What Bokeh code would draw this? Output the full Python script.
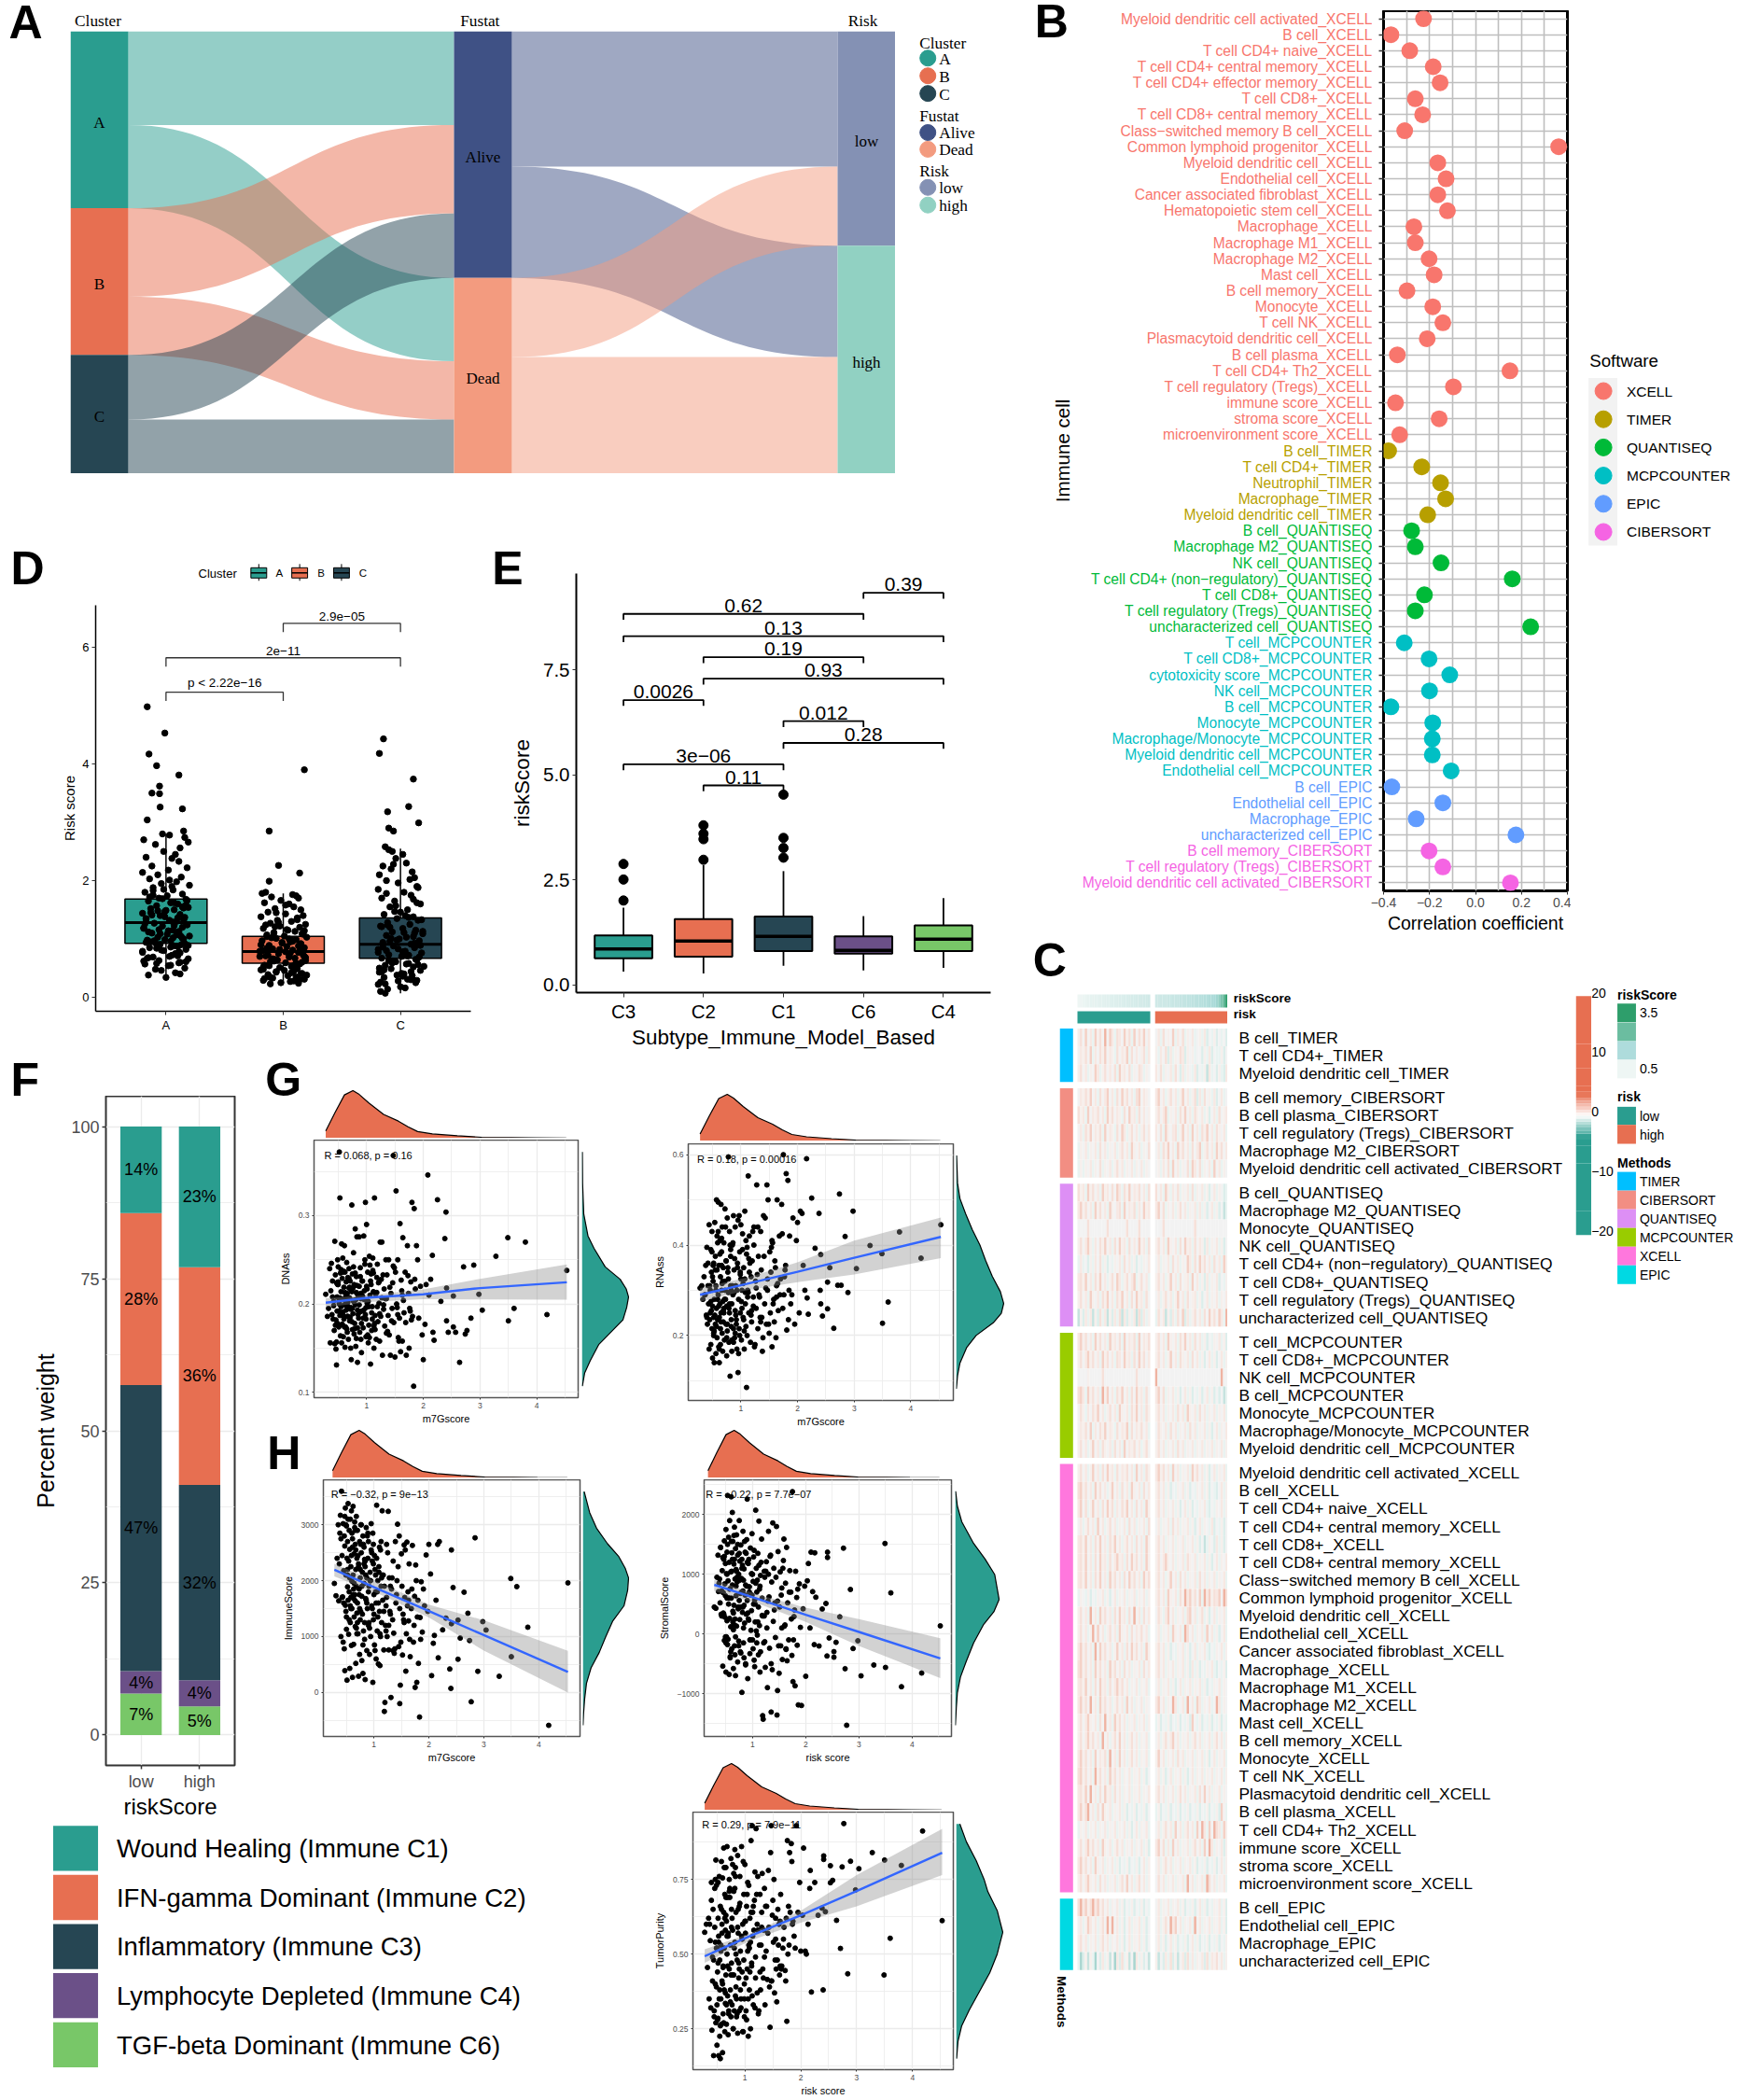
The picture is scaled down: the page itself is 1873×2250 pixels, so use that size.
import math
from bokeh.plotting import figure
from bokeh.models import Range1d, FixedTicker, Column
from bokeh.embed import file_html
from bokeh.resources import INLINE
from bokeh.core.properties import value

SANS = "Liberation Sans"
SERIF = "Liberation Serif"
TEAL, SALMON, NAVY, PURPLE, GREEN = "#2A9D8F", "#E76F51", "#264653", "#6B5088", "#78C768"

# ---------- panel A: alluvial counts
cluster_names = ["A", "B", "C"]
fustat_names = ["Alive", "Dead"]
risk_names = ["low", "high"]
cluster_to_fustat = [[90, 80], [85, 56], [62, 52]]
fustat_to_risk = [[130, 107], [76, 112]]
cluster_colors = [TEAL, SALMON, NAVY]
fustat_colors = ["#3F5185", "#F39B7F"]
risk_colors = ["#8491B4", "#91D1C2"]

# ---------- panel B
sw_names = ["XCELL", "TIMER", "QUANTISEQ", "MCPCOUNTER", "EPIC", "CIBERSORT"]
sw_colors = ["#F8766D", "#B79F00", "#00BA38", "#00BFC4", "#619CFF", "#F564E3"]
b_xcell = ["Myeloid dendritic cell activated", "B cell", "T cell CD4+ naive", "T cell CD4+ central memory",
           "T cell CD4+ effector memory", "T cell CD8+", "T cell CD8+ central memory", "Class\u2212switched memory B cell",
           "Common lymphoid progenitor", "Myeloid dendritic cell", "Endothelial cell", "Cancer associated fibroblast",
           "Hematopoietic stem cell", "Macrophage", "Macrophage M1", "Macrophage M2", "Mast cell", "B cell memory",
           "Monocyte", "T cell NK", "Plasmacytoid dendritic cell", "B cell plasma", "T cell CD4+ Th2",
           "T cell regulatory (Tregs)", "immune score", "stroma score", "microenvironment score"]
b_timer = ["B cell", "T cell CD4+", "Neutrophil", "Macrophage", "Myeloid dendritic cell"]
b_quant = ["B cell", "Macrophage M2", "NK cell", "T cell CD4+ (non\u2212regulatory)", "T cell CD8+",
           "T cell regulatory (Tregs)", "uncharacterized cell"]
b_mcp = ["T cell", "T cell CD8+", "cytotoxicity score", "NK cell", "B cell", "Monocyte", "Macrophage/Monocyte",
         "Myeloid dendritic cell", "Endothelial cell"]
b_epic = ["B cell", "Endothelial cell", "Macrophage", "uncharacterized cell"]
b_cib = ["B cell memory", "T cell regulatory (Tregs)", "Myeloid dendritic cell activated"]
b_groups = [b_xcell, b_timer, b_quant, b_mcp, b_epic, b_cib]
b_values = [-0.226, -0.368, -0.286, -0.184, -0.154, -0.262, -0.23, -0.308, 0.362, -0.164, -0.128, -0.164, -0.122,
            -0.268, -0.262, -0.202, -0.18, -0.298, -0.186, -0.142, -0.21, -0.34, 0.15, -0.096, -0.348, -0.158, -0.33,
            -0.378, -0.234, -0.152, -0.13, -0.208,
            -0.278, -0.262, -0.15, 0.16, -0.222, -0.262, 0.24,
            -0.31, -0.202, -0.112, -0.2, -0.368, -0.186, -0.188, -0.188, -0.106,
            -0.364, -0.142, -0.258, 0.176,
            -0.202, -0.142, 0.152]

# ---------- panel D
d_box = {"q1": [0.926, 0.583, 0.669], "med": [1.28, 0.783, 0.909], "q3": [1.686, 1.046, 1.36],
         "lo": [0.33, 0.25, 0.07], "hi": [2.8, 1.78, 2.55]}
d_brackets = [(1, 2, 5.23, "p < 2.22e\u221216"), (1, 3, 5.82, "2e\u221211"), (2, 3, 6.41, "2.9e\u221205")]
d_a_y = [4.98, 4.53, 4.17, 3.97, 3.81, 3.62, 3.50, 3.49, 3.26, 3.23,
         3.04, 2.85, 2.80, 2.78, 2.74, 2.70, 2.66, 2.62, 2.56, 2.50,
         2.45, 2.40, 2.38, 2.33, 2.25, 2.22, 2.18, 2.14, 2.10, 2.06,
         2.03, 1.98, 1.95, 1.92, 1.88, 1.84, 1.80, 1.77, 1.74, 1.70,
         1.68, 1.65, 1.62, 1.60, 1.57, 1.54, 1.52, 1.50, 1.47, 1.44,
         1.42, 1.40, 1.37, 1.35, 1.32, 1.30, 1.27, 1.25, 1.22, 1.20,
         1.18, 1.15, 1.13, 1.10, 1.08, 1.05, 1.03, 1.00, .98, .96,
         .93, .90, .88, .85, .82, .80, .77, .74, .72, .69,
         .66, .63, .60, .57, .54, .50, .46, .42, .38, .34,
         1.85, 1.62, 1.45, 1.33, 1.16, 1.06, .94, .86, .71, .58,
         2.01, 1.75, 1.55, 1.38, 1.24, 1.12, 1.02, .91, .78, .62,
         1.90, 1.72, 1.58, 1.48, 1.36, 1.26, 1.14, 1.04, .97, .89, .81, .75, .67, .59, 1.69, 1.53, 1.41, 1.29, 1.19, 1.07,
         .99, .92, .84, .76, .68, .55, 1.83, 1.66, 1.49, 1.34, 1.23, 1.09, 1.01, .95, .87, .79, .70, .61, .48, .40]
d_a_dx = [-.16, -.01, -.145, -.08, .11, -.055, -.12, -.055, -.05, .14,
          -.16, .15, -.03, .03, .16, -.19, .19, -.09, .12, -.02,
          .08, -.17, .05, .11, -.12, .18, .02, -.20, -.07, .13,
          -.14, .09, -.04, .2, -.11, .06, -.18, .14, .01, -.06,
          .17, -.15, .04, .10, -.08, .19, -.13, .07, -.01, -.2,
          .12, -.05, .16, -.17, .03, .09, -.1, .18, -.03, .14,
          -.19, .06, .11, -.12, .01, .2, -.07, .15, -.16, .04,
          -.09, .13, .07, -.14, .17, -.02, -.2, .1, .05, -.11,
          .19, -.06, .12, -.18, .02, .16, -.04, .08, -.15, .0,
          -.02, .07, -.13, .15, -.06, .12, -.17, .04, .10, -.08,
          .03, -.11, .14, -.01, .18, -.15, .06, -.05, .11, -.19,
          .05, -.14, .17, -.07, .1, -.18, .02, .13, -.1, .19, -.04, .08, -.16, .11, -.03, .15, -.12, .06, -.19, .09,
          -.01, .16, -.08, .12, -.15, .04, -.11, .18, .0, -.17, .07, -.05, .14, -.13, .1, -.2, .03, .17, -.09, .12]
d_b_y = [3.9, 2.85, 2.26, 2.13, 1.99,
         1.80, 1.78, 1.76, 1.74, 1.72, 1.70, 1.66, 1.62, 1.60, 1.55, 1.52, 1.50, 1.46, 1.43, 1.40,
         1.38, 1.35, 1.32, 1.30, 1.27, 1.25, 1.22, 1.20, 1.18, 1.15, 1.13, 1.11, 1.09, 1.07, 1.05,
         1.03, 1.01, .99, .97, .95, .93, .91, .89, .87, .85, .83, .81, .79, .77, .75,
         .73, .71, .69, .67, .65, .63, .61, .59, .57, .55, .53, .51, .49, .47, .45,
         .43, .41, .39, .37, .35, .33, .31, .29, .27, .25, .24, .23,
         1.10, 1.00, .92, .84, .78, .70, .64, .56, .48, .42, .36, .30,
         1.45, 1.33, 1.24, 1.16, 1.08, 1.02, .96, .90, .86, .82, .76, .72, .68, .62, .58, .52, .46, .40, .34, .28,
         1.28, 1.14, 1.04, .98, .94, .88, .80, .74, .66, .60, .54, .50, .44, .38, .32, 1.58, 1.36, 1.21, .84, .70]
d_b_dx = [.18, -.12, -.04, .14, -.12,
          -.15, -.18, .08, .11, -.1, .13, -.02, -.16, .05, .09, -.07, .15, -.13, .02, .17,
          -.19, .12, -.05, .07, -.11, .19, -.03, .14, -.17, .04, .10, -.08, .16, -.14, .01,
          .2, -.06, .11, -.18, .06, -.01, .15, -.12, .03, .18, -.09, .08, -.2, .13, -.04,
          .17, -.15, .05, .10, -.07, .19, -.11, .02, .14, -.16, .07, -.03, .12, -.19, .09,
          -.06, .16, -.13, .04, .11, -.09, .18, -.17, .06, -.02, .13, -.11,
          -.08, .05, .15, -.14, .02, .18, -.05, .10, -.17, .07, -.12, .14,
          -.06, .12, -.15, .03, .17, -.1, .08, -.19, .14, -.03, .06, -.13, .19, -.08, .11, -.17, .01, .15, -.11, .09,
          -.04, .18, -.14, .07, -.01, .13, -.18, .05, -.09, .16, -.12, .1, -.06, .2, -.16, .02, .12, -.07, .17, -.2]
d_c_y = [4.43, 4.18, 3.74, 3.27, 3.18, 2.99, 2.90, 2.85,
         2.58, 2.53, 2.50, 2.45, 2.38, 2.30, 2.25, 2.20, 2.15, 2.10, 2.05, 2.0, 1.96, 1.90, 1.85, 1.80, 1.75,
         1.70, 1.65, 1.60, 1.55, 1.50, 1.46, 1.42, 1.38, 1.35, 1.32, 1.28, 1.25, 1.22, 1.18, 1.15, 1.12, 1.09,
         1.06, 1.03, 1.00, .97, .94, .91, .88, .85, .82, .79, .76, .73, .70, .67, .64, .61, .58, .55, .52, .49,
         .46, .43, .40, .37, .34, .31, .28, .25, .22, .18, .14, .10, .07,
         1.40, 1.20, 1.10, .98, .90, .80, .72, .62, .56, .44, .36, .30,
         2.02, 1.78, 1.62, 1.47, 1.33, 1.21, 1.11, 1.04, .96, .89, .83, .77, .71, .65, .59, .53, .47, .41, .33, .26,
         1.88, 1.57, 1.37, 1.24, 1.13, 1.01, .93, .86, .78, .69, .63, .57, .50, .44, .38, .29, .23, .16, 2.28, 1.68]
d_c_dx = [-.145, -.18, .11, .07, -.11, .155, -.10, -.06,
          -.13, -.1, -.07, .02, -.04, .05, -.15, -.08, .1, -.18, .12, -.12, -.02, .14, -.19, .03, .09,
          -.16, -.05, .17, -.09, .06, .0, -.14, .11, -.03, .15, -.11, .08, -.17, .02, .13, -.07, .19,
          -.12, .05, -.01, .16, -.15, .09, -.06, .12, -.19, .04, .18, -.1, .01, -.16, .14, -.04, .07, -.13, .11, -.08,
          .17, -.18, .03, .1, -.14, .06, -.02, .13, -.19, .0, -.11, -.17, -.13,
          .04, -.09, .12, -.03, .16, -.12, .07, -.06, .15, -.16, .02, .09,
          .08, -.12, .14, -.05, .18, -.16, .03, .11, -.09, .17, -.02, -.19, .06, .13, -.07, .2, -.14, .01, .1, -.17,
          .15, -.04, .07, -.11, .19, -.08, .12, -.15, .02, .16, -.1, .05, -.18, .09, -.03, .14, -.13, .04, -.06, .11]

# ---------- panel E
e_names = ["C3", "C2", "C1", "C6", "C4"]
e_colors = [TEAL, SALMON, NAVY, PURPLE, GREEN]
e_q1 = [0.634, 0.674, 0.81, 0.745, 0.81]
e_med = [0.856, 1.046, 1.157, 0.824, 1.09]
e_q3 = [1.18, 1.57, 1.63, 1.157, 1.42]
e_lo = [0.317, 0.277, 0.46, 0.35, 0.41]
e_hi = [1.84, 2.85, 2.71, 1.64, 2.07]
e_out_x = [1, 1, 1, 2, 2, 2, 2, 3, 3, 3, 3]
e_out_y = [2.01, 2.51, 2.88, 2.98, 3.47, 3.6, 3.8, 3.03, 3.26, 3.5, 4.53]
e_brackets = [(4, 5, 9.33, "0.39"), (1, 4, 8.83, "0.62"), (1, 5, 8.30, "0.13"), (2, 4, 7.80, "0.19"),
              (2, 5, 7.29, "0.93"), (1, 2, 6.78, "0.0026"), (3, 4, 6.28, "0.012"), (3, 5, 5.76, "0.28"),
              (1, 3, 5.25, "3e\u221206"), (2, 3, 4.75, "0.11")]

# ---------- panel F
f_names = ["TGF-beta Dominant (Immune C6)", "Lymphocyte Depleted (Immune C4)", "Inflammatory (Immune C3)",
           "IFN-gamma Dominant (Immune C2)", "Wound Healing (Immune C1)"]
f_colors = [GREEN, PURPLE, NAVY, SALMON, TEAL]
f_low = [6.8, 3.7, 47.0, 28.3, 14.2]
f_high = [4.7, 4.3, 32.1, 35.8, 23.1]
f_low_lab = ["7%", "4%", "47%", "28%", "14%"]
f_high_lab = ["5%", "4%", "32%", "36%", "23%"]

# ---------- scatter panels: same samples on the x axis
risk = [.28, .31, .33, .35, .36, .38, .39, .40, .41, .42,
        .43, .44, .44, .45, .46, .47, .47, .48, .48, .49,
        .49, .50, .50, .51, .52, .52, .53, .53, .54, .54,
        .55, .55, .56, .56, .57, .57, .58, .58, .59, .59,
        .60, .60, .61, .61, .62, .62, .63, .63, .64, .64,
        .65, .65, .66, .66, .67, .67, .68, .68, .69, .69,
        .70, .70, .71, .72, .72, .73, .74, .74, .75, .75,
        .76, .76, .77, .78, .78, .79, .80, .80, .81, .82,
        .82, .83, .84, .84, .85, .86, .87, .87, .88, .89,
        .90, .90, .91, .92, .93, .94, .95, .96, .97, .98,
        .98, .99, 1.00, 1.01, 1.02, 1.03, 1.04, 1.05, 1.06, 1.07,
        1.08, 1.09, 1.10, 1.11, 1.12, 1.13, 1.14, 1.15, 1.17, 1.18,
        1.19, 1.20, 1.22, 1.23, 1.24, 1.26, 1.27, 1.28, 1.30, 1.31,
        1.32, 1.34, 1.35, 1.36, 1.38, 1.39, 1.40, 1.42, 1.43, 1.45,
        1.46, 1.47, 1.48, 1.50, 1.51, 1.52, 1.53, 1.55, 1.56, 1.58,
        1.59, 1.60, 1.62, 1.63, 1.64, 1.66, 1.68, 1.70, 1.72, 1.74,
        1.75, 1.76, 1.78, 1.80, 1.81, 1.83, 1.84, 1.86, 1.88, 1.90,
        1.92, 1.95, 1.98, 2.00, 2.03, 2.05, 2.08, 2.10, 2.13, 2.16,
        2.17, 2.19, 2.25, 2.31, 2.38, 2.40, 2.41, 2.41, 2.44, 2.53,
        2.53, 2.57, 2.64, 2.71, 2.74, 2.77, 2.84, 2.89, 2.98, 3.04,
        3.28, 3.49, 3.50, 3.60, 3.80, 4.18, 4.53, .52, .66, .83,
        .37, .42, .46, .5, .53, .56, .58, .61, .63, .65,
        .68, .71, .73, .75, .77, .79, .81, .83, .85, .87,
        .89, .91, .93, .95, .97, .99, 1.01, 1.03, 1.05, 1.07,
        1.09, 1.11, 1.13, 1.16, 1.19, 1.21, 1.25, 1.29, 1.33, 1.37,
        1.41, 1.44, 1.49, 1.54, 1.57, 1.61, 1.65, 1.69, 1.73, 1.77,
        .40, .45, .49, .52, .55, .59, .62, .66, .69, .72,
        .74, .76, .78, .80, .84, .86, .88, .92, .94, .96,
        1.00, 1.02, 1.04, 1.06, 1.10, 1.12, 1.15, 1.18, 1.23, 1.27,
        .47, .51, .57, .60, .64, .67, .70, .82, .90, .99,
        1.08, 1.14, 1.22, 1.30, 1.35, 1.47, 1.55, 1.63, 1.79, 1.85]
dnass = [.211, .186, .195, .240, .156, .246, .188, .226, .183, .203,
         .170, .155, .271, .233, .149, .131, .157, .208, .192, .250,
         .178, .222, .242, .174, .372, .201, .320, .187, .164, .235,
         .214, .197, .268, .156, .229, .177, .191, .252, .205, .163,
         .219, .183, .266, .199, .151, .236, .174, .208, .225, .193,
         .247, .172, .212, .186, .202, .230, .160, .195, .240, .218,
         .181, .207, .226, .150, .196, .137, .312, .214, .171, .234,
         .189, .204, .258, .166, .222, .178, .285, .199, .152, .213,
         .231, .276, .193, .134, .210, .184, .276, .220, .168, .241,
         .206, .160, .145, .192, .226, .173, .277, .215, .250, .315,
         .188, .163, .290, .201, .236, .156, .176, .254, .210, .132,
         .222, .170, .197, .252, .235, .150, .320, .187, .160, .213,
         .245, .180, .201, .158, .270, .228, .270, .142, .194, .217,
         .175, .250, .206, .233, .187, .250, .165, .142, .212, .195,
         .224, .368, .179, .140, .236, .328, .200, .250, .162, .184,
         .291, .146, .215, .158, .275, .190, .236, .142, .266, .212,
         .150, .195, .225, .315, .186, .107, .308, .217, .266, .250,
         .184, .220, .165, .137, .177, .222, .346, .210, .228, .255,
         .168, .159, .318, .203, .274, .304, .181, .218, .168, .209,
         .174, .168, .134, .242, .166, .170, .184, .244, .211, .193,
         .254, .275, .181, .195, .270, .188, .238, .205, .198, .212,
         .215, .198, .182, .225, .207, .190, .236, .174, .212, .201,
         .228, .185, .216, .195, .242, .172, .205, .221, .188, .199,
         .231, .178, .209, .193, .245, .183, .217, .203, .162, .226,
         .190, .238, .175, .211, .197, .224, .186, .233, .206, .169,
         .219, .181, .241, .196, .158, .227, .204, .179, .232, .192,
         .208, .176, .222, .200, .239, .187, .213, .168, .229, .194,
         .180, .218, .202, .235, .173, .210, .191, .226, .184, .205,
         .220, .165, .197, .244, .183, .214, .171, .230, .189, .207,
         .224, .192, .177, .237, .203, .186, .219, .161, .212, .196,
         .234, .178, .225, .199, .167, .243, .188, .210, .182, .228]
rnass = [.305, .310, .280, .330, .290, .355, .245, .395, .225, .310,
         .270, .170, .445, .235, .300, .180, .390, .255, .340, .215,
         .430, .265, .150, .320, .200, .360, .140, .280, .450, .245,
         .225, .375, .160, .310, .500, .260, .195, .345, .235, .405,
         .495, .290, .175, .355, .240, .140, .410, .270, .215, .330,
         .490, .250, .300, .385, .205, .440, .275, .165, .350, .230,
         .260, .405, .190, .480, .320, .280, .225, .365, .155, .265,
         .460, .210, .340, .295, .595, .185, .250, .430, .110, .310,
         .375, .235, .270, .165, .400, .290, .215, .465, .345, .195,
         .255, .440, .310, .225, .170, .360, .118, .280, .465, .200,
         .385, .250, .325, .190, .300, .425, .240, .350, .170, .475,
         .270, .220, .085, .395, .300, .553, .250, .420, .185, .330,
         .230, .365, .285, .440, .175, .320, .260, .533, .215, .375,
         .290, .240, .430, .345, .165, .195, .465, .270, .460, .225,
         .533, .300, .500, .205, .385, .250, .340, .175, .405, .280,
         .230, .365, .195, .310, .500, .255, .420, .325, .490, .260,
         .600, .290, .345, .558, .212, .543, .235, .420, .270, .290,
         .460, .225, .410, .450, .250, .475, .470, .355, .300, .591,
         .283, .247, .504, .393, .470, .300, .379, .270, .243, .318,
         .259, .350, .216, .311, .513, .311, .419, .295, .475, .348,
         .399, .381, .227, .274, .429, .371, .445, .240, .355, .300,
         .290, .360, .250, .330, .210, .300, .420, .265, .380, .230,
         .320, .280, .440, .195, .350, .260, .400, .220, .310, .185,
         .370, .245, .300, .455, .215, .340, .275, .390, .235, .325,
         .410, .200, .295, .360, .255, .430, .180, .335, .285, .240,
         .375, .305, .225, .395, .270, .350, .315, .290, .425, .330,
         .240, .310, .385, .205, .345, .280, .170, .415, .255, .300,
         .365, .225, .325, .270, .190, .405, .295, .235, .350, .160,
         .445, .260, .315, .210, .380, .285, .340, .245, .400, .305,
         .275, .355, .220, .430, .180, .315, .250, .390, .205, .335,
         .295, .370, .265, .440, .230, .325, .410, .285, .355, .300]
immune = [1950, 1730, 2400, 3000, 1640, 2850, 3170, 1000, 3600, 2450,
          1710, 900, 3020, 2180, 780, 2620, 390, 1560, 3300, 2100,
          1450, 2980, 1130, 220, 2700, 1890, 3380, 1650, 2350, 1040,
          2900, 1800, 430, 2560, 3100, 1250, 1700, 2250, 840, 3250,
          1990, 1500, 2750, 270, 2100, 3330, 1680, 860, 2480, 1350,
          3050, 1750, 1180, 2650, 2200, 520, 1900, 3150, 1420, 2400,
          1600, 2900, 1050, 290, 2300, 1850, 2700, 680, 1300, 2050,
          3000, 1450, 2500, 570, 1720, 2150, 340, 2800, 1100, 1950,
          2600, 1250, 2250, 230, 1680, 2950, 750, 2050, 1500, 2400,
          1200, 2700, 1900, 680, 2150, 1000, 3020, 1550, 2350, 180,
          2850, 1300, 1750, 2450, 750, 2100, 1600, 3350, 1100, 2000,
          510, 2250, 1450, 480, 2550, 1900, 1250, 3250, 2100, 760,
          -340, -180, 1550, 2650, 1000, 3240, 760, 2050, 1400, -90,
          1850, 1300, 2350, 1060, 780, 2700, 1600, 2000, 3010, 820,
          2800, -200, 130, 2480, 1900, 670, 1400, 2640, 1700, 380,
          1050, 2690, 1800, 1280, 2300, 640, 1500, 2630, 900, 1720,
          90, 2280, 180, 1650, 520, -440, 1340, 1980, 1080, 1850,
          1550, 2460, 1450, 2650, 2120, 300, 880, 1020, 1650, 2650,
          620, 2700, 1120, 1330, 420, 72, 2550, 1230, 1878, 594,
          1294, 972, 1794, 1417, 928, -167, 2767, 378, 1267, 1117,
          289, 2039, 639, 1894, 1167, -589, 1961, 2200, 1640, 2380,
          2300, 1700, 2800, 1350, 3100, 2050, 1500, 2600, 1850, 2950,
          1150, 2450, 1750, 2200, 3000, 1400, 2650, 950, 2100, 1600,
          2850, 1250, 2000, 2550, 1500, 2300, 850, 1800, 2400, 1350,
          2150, 1050, 2700, 1650, 1900, 1200, 2500, 1450, 2050, 700,
          1750, 2250, 900, 1300, 2550, 1550, 950, 1850, 1200, 2000,
          2750, 1600, 3000, 2100, 1300, 2450, 1750, 2900, 1050, 2250,
          1500, 2650, 1900, 850, 2350, 1650, 2800, 1150, 2000, 2500,
          1400, 2200, 600, 1800, 2600, 1000, 2100, 1450, 1700, 1200,
          3150, 2400, 1550, 2850, 1950, 2550, 1250, 2300, 1800, 2650,
          1600, 2050, 1100, 1900, 750, 1500, 1250, 1650, 1350, 950]
stromal = [450, 430, 950, 1320, 710, 920, 520, 1450, 330, 720,
           1060, -540, 1280, 690, 330, -110, 1560, 840, 280, 1180,
           640, 1750, -640, 1010, 220, 1370, -180, 2320, 890, -90,
           1620, 500, -680, 1200, 260, 1900, 760, -380, 1040, 120,
           2297, 600, 1360, -250, 2036, 820, 380, 1550, -580, 70,
           1170, 480, 1790, -200, 920, 250, 1430, -700, 640, 1080,
           1660, 130, 870, -470, 1320, 420, -120, 1000, 1900, 560,
           240, 1220, 680, 1490, -320, 930, -980, 1250, 360, 720,
           1720, -150, 480, 1090, 180, 1370, -520, 820, 330, 1580,
           2260, 560, -750, 1180, 230, 790, -330, 1440, 60, 1010,
           390, 1680, -100, 880, 1290, -440, 570, 200, 2073, 1100,
           700, -20, 1350, 450, 1890, 140, -640, 980, 1590, 310,
           -1370, -1430, 1050, -130, -560, 1210, 360, -900, 1720, 620,
           -240, 1320, -1310, 870, 1860, 210, 1100, 520, -60, 1800,
           -1360, -950, 1380, -660, 450, 1040, -200, 770, -430, 1230,
           1590, 130, 850, -260, 1450, 520, -100, 1060, 700, -360,
           2385, -800, 290, -870, 1050, 610, -190, -1190, 840, 110,
           -1200, 420, 800, -710, 890, 1180, 100, 1370, 708, -180,
           1359, 615, -203, 417, 510, -370, 1370, 1281, -68, -391,
           -297, -141, 286, 1437, -583, -1531, 745, -245, -115, -703,
           -521, 1516, -562, 688, -885, -656, 135, 600, 1250, 900,
           850, 300, 1250, -150, 1500, 600, -400, 1050, 200, 1650,
           -50, 950, 450, 1350, -300, 700, 1150, 100, 1550, -500,
           800, 350, 1250, -100, 650, 1000, -250, 1400, 500, 50,
           900, -350, 750, 1200, 300, -150, 1050, 550, 1300, -600,
           400, 950, -200, 650, 1100, 150, -450, 700, 250, -100,
           1450, 350, -50, 1000, 600, -300, 1250, 150, 800, 1500,
           -200, 900, 450, 1100, -400, 650, 1350, 250, 700, -100,
           1000, 500, -550, 850, 200, 1150, -300, 600, 950, 100,
           1300, -50, 750, 1550, 350, -350, 1050, 450, 1200, 650,
           -150, 800, 300, 1000, -500, 550, 100, -250, 400, 750]
tumor = [.573, .600, .455, .620, .350, .545, .320, .740, .245, .490,
         .650, .160, .480, .310, .590, .400, .540, .270, .815, .390,
         .730, .520, .195, .440, .620, .285, .560, .160, .760, .350,
         .480, .225, .660, .150, .530, .350, .810, .265, .600, .410,
         .755, .170, .455, .300, .640, .855, .380, .520, .240, .700,
         .580, .335, .790, .430, .265, .610, .500, .860, .360, .690,
         .230, .560, .310, .750, .450, .720, .380, .530, .820, .290,
         .650, .470, .330, .800, .580, .250, .430, .710, .310, .850,
         .540, .790, .390, .640, .290, .480, .830, .235, .570, .420,
         .660, .310, .760, .510, .350, .860, .440, .600, .240, .700,
         .480, .350, .800, .570, .310, .660, .450, .740, .225, .530,
         .380, .620, .250, .880, .460, .930, .560, .330, .680, .775,
         .420, .920, .600, .760, .300, .530, .700, .380, .640, .770,
         .450, .580, .720, .330, .510, .660, .415, .780, .590, .255,
         .840, .930, .410, .680, .540, .750, .370, .620, .450, .480,
         .650, .530, .430, .610, .700, .460, .520, .590, .445, .620,
         .275, .880, .660, .840, .640, .870, .810, .610, .560, .520,
         .930, .640, .740, .510, .630, .855, .510, .500, .600, .720,
         .780, .373, .740, .630, .654, .380, .829, .817, .642, .796,
         .739, .747, .613, .519, .792, .937, .434, .811, .715, .786,
         .840, .430, .815, .553, .797, .912, .612, .470, .690, .360,
         .600, .410, .720, .330, .540, .260, .650, .460, .790, .370,
         .560, .300, .690, .430, .620, .250, .520, .760, .350, .590,
         .470, .670, .320, .550, .810, .400, .610, .280, .510, .730,
         .440, .640, .360, .580, .490, .700, .310, .530, .420, .660,
         .570, .390, .630, .480, .340, .600, .450, .550, .410, .500,
         .680, .290, .520, .740, .380, .570, .270, .630, .460, .710,
         .340, .590, .430, .770, .500, .300, .650, .380, .560, .240,
         .610, .420, .700, .350, .540, .470, .660, .320, .580, .440,
         .750, .280, .510, .400, .620, .330, .570, .720, .450, .290,
         .520, .640, .370, .590, .490, .410, .550, .460, .530, .600]

# density of risk score (top margin of every scatter)
top_x = [.28, .44, .61, .76, .87, 1.04, 1.3, 1.56, 1.73, 1.9, 2.16, 2.6, 3.03, 3.55, 3.98, 4.52]
top_h = [.15, .53, .91, 1.0, .92, .74, .5, .36, .24, .14, .09, .05, .02, .015, .008, .002]
# margins on the right of each scatter
dn_y = [.372, .337, .302, .277, .263, .242, .228, .217, .208, .196, .182, .168, .154, .136, .122, .107]
dn_w = [.01, .015, .04, .13, .26, .5, .82, .95, 1, .96, .88, .62, .36, .18, .06, .01]
rn_y = [.598, .537, .503, .469, .434, .40, .366, .331, .297, .271, .249, .228, .20, .173, .139, .111, .082]
rn_w = [.01, .03, .08, .2, .34, .5, .62, .76, .93, 1, .95, .78, .42, .22, .08, .03, .005]
im_y = [3594, 3217, 2939, 2661, 2439, 2217, 2050, 1828, 1550, 1272, 994, 717, 439, 161, -117, -394, -589]
im_w = [.03, .15, .3, .54, .78, .93, 1, .98, .9, .65, .5, .36, .18, .08, .04, .015, .005]
st_y = [2391, 2141, 1880, 1516, 1255, 995, 786, 578, 370, 161, -151, -464, -724, -984, -1245, -1531]
st_w = [.01, .05, .15, .42, .68, .9, .95, 1, .88, .65, .42, .25, .12, .05, .025, .005]
tu_y = [.936, .876, .813, .75, .709, .646, .573, .5, .437, .375, .312, .26, .208, .15]
tu_w = [.08, .22, .43, .6, .68, .88, 1, .88, .72, .5, .28, .12, .04, .01]
# fitted lines with their confidence bands
fit_x = [.28, 1.1, 2.0, 3.0, 4.53]
dn_fit = [.2014, .2075, .2110, .2180, .2246]
dn_lo = [.1965, .2025, .2055, .2052, .2049]
dn_hi = [.2065, .2105, .2165, .2285, .2447]
rn_fit = [.290, .314, .341, .372, .418]
rn_lo = [.275, .300, .318, .335, .371]
rn_hi = [.305, .328, .362, .410, .461]
im_fit = [2194, 1840, 1455, 1025, 367]
im_lo = [2078, 1760, 1340, 750, -5]
im_hi = [2300, 1960, 1570, 1290, 744]
st_fit = [823, 585, 322, 33, -411]
st_lo = [719, 510, 200, -200, -740]
st_hi = [906, 660, 440, 250, -73]
tu_fit = [.4927, .561, .630, .711, .839]
tu_lo = [.471, .545, .605, .660, .765]
tu_hi = [.516, .570, .645, .765, .919]

# ---------- panel C: heat map levels, one string per row (low group, high group)
hm_methods = ["TIMER", "CIBERSORT", "QUANTISEQ", "MCPCOUNTER", "XCELL", "EPIC"]
hm_method_colors = ["#00BFFF", "#F28E83", "#DD8FF5", "#99CC00", "#FF77DD", "#00D9E3"]
hm_labels = [["B cell", "T cell CD4+", "Myeloid dendritic cell"],
             ["B cell memory", "B cell plasma", "T cell regulatory (Tregs)", "Macrophage M2", "Myeloid dendritic cell activated"],
             ["B cell", "Macrophage M2", "Monocyte", "NK cell", "T cell CD4+ (non\u2212regulatory)", "T cell CD8+",
              "T cell regulatory (Tregs)", "uncharacterized cell"],
             ["T cell", "T cell CD8+", "NK cell", "B cell", "Monocyte", "Macrophage/Monocyte", "Myeloid dendritic cell"],
             ["Myeloid dendritic cell activated", "B cell", "T cell CD4+ naive", "T cell CD4+ central memory", "T cell CD8+",
              "T cell CD8+ central memory", "Class\u2212switched memory B cell", "Common lymphoid progenitor",
              "Myeloid dendritic cell", "Endothelial cell", "Cancer associated fibroblast", "Macrophage", "Macrophage M1",
              "Macrophage M2", "Mast cell", "B cell memory", "Monocyte", "T cell NK", "Plasmacytoid dendritic cell",
              "B cell plasma", "T cell CD4+ Th2", "immune score", "stroma score", "microenvironment score"],
             ["B cell", "Endothelial cell", "Macrophage", "uncharacterized cell"]]
hm_rows = [
 "574846385749486376485738475846 463745483647354634536243524342",
 "465748364758465374658374645736 536472635476254534425362433524",
 "574635486357464738564735476354 647354637426354362435163425326",
 "465758463746846374857463784654 684635746358463572637453624634",
 "756384657463857465374856374645 574683546375846375463524637456",
 "463758465738465374863574635746 647385467358463846375846375463",
 "354635463746354635746385463547 463758463857463746835746385746",
 "353546354735463574635463546354 453647384635473864735463846354",
 "756385746385647486375846574637 746385364735463735463524635423",
 "685746385746385467384657364856 684735463574635463635246352413",
 "444474444444744444447444474444 444744444444444474444444444444",
 "574685364758463748563746485637 574638546374856374652635463524",
 "363425364735243546374635243546 463546374635486374857463746385",
 "675846375846357486357468357463 574635846374563846352635462435",
 "574638546375846375846374856374 463574635846374563524635463546",
 "152636152736152637162536172635 374615263748263574637485748639",
 "685746385746385647384657384657 574638546375846374635243546352",
 "574685746385746376485637485746 574635846375463746352463524635",
 "444454444474444444444444744444 944444444444444444444444444944",
 "786385746395846375846374856374 684735463524635243524635242413",
 "475364758463574638546375846375 574635463746385463746354635463",
 "465748364758465374658374657463 475463746354637463546352463546",
 "574635846375463746384657463574 574635463746354635463546354635",
 "574635846374856374657463846375 685746384635463857463524635463",
 "785746385746358463746385463746 574635243546352435463524324635",
 "684735846374857364758463746385 574635463524635243546324354635",
 "463574638463574635463746354637 463546374635463524635436243524",
 "675846375846375846357463746385 574635463546354635241354263524",
 "675846374856374685637485746385 574685463546375463546352463546",
 "675846375846385746374857463857 574635846374635463746354635463",
 "354352435463524635463546354635 574638546375968574839685768497",
 "574639463857463748563749463746 475368463546378463573524635463",
 "574635948463574638546374657463 463546385463974635463846352463",
 "685746394857463584637485746385 574635243546352463546324354635",
 "785746385746385746374635463746 574635463546352635243546324352",
 "675846374856374685746354635463 463546352463546354635243546354",
 "685749463857463574638463546354 684635496346394638635463496354",
 "574685463749463857463546354635 352435243524352843524352435243",
 "574685746394635748463574635463 463574684635463574635463574635",
 "685746384657394638463574635463 584635463746354635463524635463",
 "785746395746385746354635463524 463524635463524635463546354635",
 "675849463748563746354635463546 574635463574635463748463546354",
 "685794637485463546352435243524 352435243524352435243524352843",
 "354635463546354635463524635463 463574638463574638496384976385",
 "574685746385463574635463546352 684736384635463574638496354625",
 "685746385463546352435243524635 463574635463546352435243524635",
 "574685463746354635748463574635 474635463546394635463974635463",
 "796857968574635463524352435243 463546354635243524635243546352",
 "463586463574959463524635463524 463574968463546394635463546352",
 "574635463574635463524635463524 463524635243524635243524352435",
 "302515304263514062735140635241 514263725146273635462736574635"]
hm_level_colors = ["#A8D5CF", "#C6E3DF", "#DCEEEB", "#E9F3F1", "#F2F2F2", "#F6EFEC", "#F7E8E3", "#F6E0D9", "#F4D0C5", "#EFB3A2"]
hm_risk_values = [.28, .33, .37, .40, .43, .46, .48, .50, .52, .54, .56, .58, .60, .62, .64, .66, .68, .70, .72, .74,
                  .76, .78, .80, .82, .84, .86, .88, .90, .92, .94,
                  .96, .98, 1.00, 1.02, 1.04, 1.06, 1.08, 1.10, 1.13, 1.16, 1.19, 1.22, 1.25, 1.28, 1.31, 1.34, 1.38,
                  1.42, 1.46, 1.50, 1.55, 1.60, 1.66, 1.72, 1.80, 1.92, 2.10, 2.40, 2.90, 3.80]
cb_values = [-20, -16, -12, -8, -5, -4, -3, -2.5, -2, -1.5, -1, -.5, 0, .5, 1, 1.5, 2, 2.5, 3, 4, 5, 8, 12, 16, 20]

figs = []


def panel(L, T, R, B, xr, yr, pad=(0, 0, 0, 0), axes=False):
    pl, pt, pr, pb = pad
    w, h = round(R - L) + pl + pr, round(B - T) + pt + pb
    p = figure(width=w, height=h, x_range=Range1d(*xr), y_range=Range1d(*yr),
               output_backend="svg", toolbar_location=None, title=None,
               x_axis_location="below" if axes else None, y_axis_location="left" if axes else None,
               min_border_left=pl, min_border_right=pr, min_border_top=pt, min_border_bottom=pb,
               background_fill_color=None, border_fill_color=None, outline_line_color=None)
    p.grid.visible = False
    figs.append(Column(children=[p], width=w, height=h,
                       styles={"position": "absolute", "left": f"{L - pl}px", "top": f"{T - pt}px"}))
    return p


def set_axis(ax, ticks, labels, size, color="#4D4D4D", tick=3, tick_w=1, line=None, line_w=1):
    ax.ticker = FixedTicker(ticks=list(ticks), minor_ticks=[])
    ax.major_label_overrides = dict(zip(ticks, labels))
    ax.major_label_text_font = SANS
    ax.major_label_text_font_size = f"{size}px"
    ax.major_label_text_color = color
    ax.major_tick_out = tick
    ax.major_tick_in = 0
    ax.minor_tick_out = 0
    ax.minor_tick_in = 0
    ax.major_tick_line_width = tick_w
    ax.major_tick_line_color = "#333333"
    ax.axis_line_color = line
    ax.axis_line_width = line_w
    ax.major_label_standoff = 3


def set_title(ax, text, size, standoff=3):
    ax.axis_label = text
    ax.axis_label_text_font = SANS
    ax.axis_label_text_font_size = f"{size}px"
    ax.axis_label_text_font_style = "normal"
    ax.axis_label_text_color = "black"
    ax.axis_label_standoff = standoff


def set_grid(grid, ticks, minors, color="#EBEBEB", w=1.3):
    grid.visible = True
    grid.ticker = FixedTicker(ticks=list(ticks), minor_ticks=list(minors))
    grid.grid_line_color = color
    grid.grid_line_width = w
    grid.minor_grid_line_color = color
    grid.minor_grid_line_width = w * 0.6 if minors else 0


# ---------- A
xa = (1 - 62 / 411 / 2, 3 + 62 / 411 / 2)
total = sum(map(sum, cluster_to_fustat))
pa = panel(75, 33, 959, 507, xa, (total, 0))
nw = 62 / 411 / 2


def flow(p, x0, x1, a0, a1, b0, b1, color):
    xs, ys_t, ys_b = [], [], []
    for k in range(41):
        t = k / 40
        u = 1 - t
        cx = 3 * u * t
        xs.append(u ** 3 * x0 + cx * u * (x0 + x1) / 2 + cx * t * (x0 + x1) / 2 + t ** 3 * x1)
        s = 3 * u * t * t + t ** 3
        ys_t.append(a0 + (b0 - a0) * s)
        ys_b.append(a1 + (b1 - a1) * s)
    p.patch(xs + xs[::-1], ys_t + ys_b[::-1], fill_color=color, fill_alpha=0.5, line_color=None)


def stack(values):
    out, c = [], 0
    for v in values:
        out.append((c, c + v))
        c += v
    return out


cl_tot = [sum(r) for r in cluster_to_fustat]
fu_tot = [sum(r[i] for r in cluster_to_fustat) for i in range(2)]
ri_tot = [sum(r[i] for r in fustat_to_risk) for i in range(2)]
cl_spans, fu_spans, ri_spans = stack(cl_tot), stack(fu_tot), stack(ri_tot)

fu_in = [fu_spans[0][0], fu_spans[1][0]]
for i, row in enumerate(cluster_to_fustat):
    c = cl_spans[i][0]
    for j, v in enumerate(row):
        flow(pa, 1 + nw, 2 - nw, c, c + v, fu_in[j], fu_in[j] + v, cluster_colors[i])
        fu_in[j] += v
        c += v
ri_in = [ri_spans[0][0], ri_spans[1][0]]
for i, row in enumerate(fustat_to_risk):
    c = fu_spans[i][0]
    for j, v in enumerate(row):
        flow(pa, 2 + nw, 3 - nw, c, c + v, ri_in[j], ri_in[j] + v, fustat_colors[i])
        ri_in[j] += v
        c += v
for xpos, spans, cols, names in [(1, cl_spans, cluster_colors, cluster_names), (2, fu_spans, fustat_colors, fustat_names),
                                 (3, ri_spans, risk_colors, risk_names)]:
    pa.quad(left=[xpos - nw] * len(spans), right=[xpos + nw] * len(spans), top=[s[0] for s in spans],
            bottom=[s[1] for s in spans], fill_color=cols, line_color=None)
    pa.text(x=[xpos] * len(spans), y=[(s[0] + s[1]) / 2 for s in spans], text=names, text_font=value(SERIF),
            text_font_size=value("17px"), text_align="center", text_baseline="middle", text_color="black", y_offset=3)

# ---------- B
b_labels, b_cols = [], []
for g, names, col in zip(b_groups, sw_names, sw_colors):
    for n in g:
        b_labels.append(f"{n}_{names}")
        b_cols.append(col)
b_rows = list(range(1, len(b_labels) + 1))
pb = panel(1482, 11, 1679, 954, (-.4, .4), (55.5, .5), pad=(370, 0, 4, 50), axes=True)
pb.outline_line_color = "black"
pb.outline_line_width = 3
set_axis(pb.xaxis[0], [-.4, -.2, 0, .2, .4], ["\u22120.4", "\u22120.2", "0.0", "0.2", "0.4"], 14, tick=4)
set_title(pb.xaxis[0], "Correlation coefficient", 19.5, 3)
set_axis(pb.yaxis[0], b_rows, [""] * len(b_rows), 1, tick=5, tick_w=1.5)
set_title(pb.yaxis[0], "Immune cell", 20.5, 328)
set_grid(pb.xgrid[0], [-.3, -.2, -.1, 0, .1, .2, .3], [], "#BEBEBE", 1.6)
set_grid(pb.ygrid[0], b_rows, [], "#BEBEBE", 1.6)
pb.scatter(b_values, b_rows, size=18, color=b_cols, line_color=None)
pbl = panel(1100, 11, 1470, 954, (0, 1), (55.5, .5))
pbl.text(x=[1] * len(b_rows), y=b_rows, text=b_labels, text_color=b_cols, text_align="right", text_baseline="middle",
         text_font=value(SANS), text_font_size=value("15.6px"))

# ---------- D
pd = panel(102, 648, 504, 1083, (.4, 3.6), (-.24, 6.72), pad=(60, 0, 5, 40), axes=True)
set_axis(pd.xaxis[0], [1, 2, 3], cluster_names, 13, "black", tick=4, line="black", line_w=1.5)
set_axis(pd.yaxis[0], [0, 2, 4, 6], ["0", "2", "4", "6"], 13, "black", tick=4, line="black", line_w=1.5)
set_title(pd.yaxis[0], "Risk score", 15, 2)
pos = [1, 2, 3]
pd.segment(pos, d_box["lo"], pos, d_box["hi"], color="black", line_width=1.5)
pd.quad(left=[v - .35 for v in pos], right=[v + .35 for v in pos], top=d_box["q3"], bottom=d_box["q1"],
        fill_color=cluster_colors, line_color="black", line_width=1.5)
pd.segment([v - .35 for v in pos], d_box["med"], [v + .35 for v in pos], d_box["med"], color="black", line_width=3)
for c0, dx, ys in [(1, d_a_dx, d_a_y), (2, d_b_dx, d_b_y), (3, d_c_dx, d_c_y)]:
    pd.scatter([c0 + d for d in dx][:len(ys)], ys[:len(dx)], size=6.5, color="black")
for a, b, y, t in d_brackets:
    pd.multi_line([[a, a, b, b]], [[y - .15, y, y, y - .15]], line_color="#333333", line_width=1.3)
    pd.text(x=[(a + b) / 2], y=[y + .04], text=[t], text_font=value(SANS), text_font_size=value("13.5px"),
            text_align="center", text_baseline="bottom", text_color="black")

# ---------- E
pe = panel(614, 614, 1061, 1063, (.41, 5.59), (-.18, 9.79), pad=(70, 0, 5, 70), axes=True)
pos = list(range(1, 6))
set_axis(pe.xaxis[0], pos, e_names, 20.5, "black", tick=5, line="black", line_w=2)
set_axis(pe.yaxis[0], [0, 2.5, 5, 7.5], ["0.0", "2.5", "5.0", "7.5"], 20.5, "black", tick=4, line="black", line_w=2)
set_title(pe.xaxis[0], "Subtype_Immune_Model_Based", 22.4, 1)
set_title(pe.yaxis[0], "riskScore", 22.5, 7)
pe.segment(pos, e_lo, pos, e_hi, color="black", line_width=1.8)
pe.quad(left=[v - .36 for v in pos], right=[v + .36 for v in pos], top=e_q3, bottom=e_q1, fill_color=e_colors,
        line_color="black", line_width=2)
pe.segment([v - .36 for v in pos], e_med, [v + .36 for v in pos], e_med, color="black", line_width=3.5)
pe.scatter(e_out_x, e_out_y, size=10, color="black")
for a, b, y, t in e_brackets:
    pe.multi_line([[a, a, b, b]], [[y - .14, y, y, y - .14]], line_color="black", line_width=1.8)
    pe.text(x=[(a + b) / 2], y=[y + .04], text=[t], text_font=value(SANS), text_font_size=value("21px"),
            text_align="center", text_baseline="bottom", text_color="black")

# ---------- F
pf = panel(112, 1174, 251, 1891, (.4, 2.6), (-5, 105), pad=(80, 0, 5, 60), axes=True)
pf.outline_line_color = "#333333"
pf.outline_line_width = 2
set_axis(pf.xaxis[0], [1, 2], risk_names, 18, tick=4, tick_w=1.5)
set_axis(pf.yaxis[0], [0, 25, 50, 75, 100], ["0", "25", "50", "75", "100"], 18, tick=4, tick_w=1.5)
set_title(pf.xaxis[0], "riskScore", 24, 0)
set_title(pf.yaxis[0], "Percent weight", 25, 10)
set_grid(pf.xgrid[0], [1, 2], [])
set_grid(pf.ygrid[0], [0, 25, 50, 75, 100], [12.5, 37.5, 62.5, 87.5])
for xc, vals, labs in [(1, f_low, f_low_lab), (2, f_high, f_high_lab)]:
    sp = stack(vals)
    pf.vbar(x=[xc] * 5, width=.707, bottom=[s[0] for s in sp], top=[s[1] for s in sp], fill_color=f_colors, line_color=None)
    pf.text(x=[xc] * 5, y=[(s[0] + s[1]) / 2 for s in sp], text=labs, text_font=value(SANS), text_font_size=value("18px"),
            text_align="center", text_baseline="middle", text_color="black")


# ---------- scatter panels
def joint(L, T, R, B, xr, yr, xticks, yticks, ymin, ylabels, ys, f, lo, hi, xlab, ylab, top_box, right_box, ry, rw,
          ts=8.5):
    p = panel(L, T, R, B, xr, yr, pad=(45, 0, 4, 34), axes=True)
    p.outline_line_color = "#555555"
    p.outline_line_width = 1.5
    set_axis(p.xaxis[0], xticks, [str(t) for t in xticks], ts, tick=2)
    set_axis(p.yaxis[0], yticks, ylabels, ts, tick=2)
    set_title(p.xaxis[0], xlab, 11, 2)
    set_title(p.yaxis[0], ylab, 11, 5)
    set_grid(p.xgrid[0], xticks, [.5, 1.5, 2.5, 3.5, 4.5])
    set_grid(p.ygrid[0], yticks, ymin)
    p.scatter(risk, ys, size=5, color="black")
    p.varea(fit_x, lo, hi, fill_color="#888888", fill_alpha=.38)
    p.line(fit_x, f, line_color="#3366FF", line_width=2.4)
    # top margin
    t0, t1 = top_box
    pt = panel(L, t0, R, t1, xr, (0, 1.02))
    pt.varea(top_x, [0] * len(top_x), top_h, fill_color=SALMON)
    pt.line(top_x, top_h, line_color="black", line_width=1.2)
    # right margin
    r0, r1 = right_box
    pr = panel(r0, T, r1, B, (0, 1.02), yr)
    pr.harea([0] * len(ry), rw, ry, fill_color=TEAL)
    pr.line(rw, ry, line_color="black", line_width=1.2)
    return p


joint(336, 1221, 619, 1497, (.074, 4.73), (.094, .3855), [1, 2, 3, 4], [.1, .2, .3], [.15, .25, .35],
      ["0.1", "0.2", "0.3"], dnass, dn_fit, dn_lo, dn_hi, "m7Gscore", "DNAss", (1167, 1219), (622.6, 674), dn_y, dn_w)
joint(737, 1225, 1021, 1500, (.072, 4.75), (.0563, .624), [1, 2, 3, 4], [.2, .4, .6], [.1, .3, .5],
      ["0.2", "0.4", "0.6"], rnass, rn_fit, rn_lo, rn_hi, "m7Gscore", "RNAss", (1171, 1222), (1024, 1076), rn_y, rn_w)
joint(344, 1585, 621, 1860, (.08, 4.75), (-788, 3805), [1, 2, 3, 4], [0, 1000, 2000, 3000], [-500, 500, 1500, 2500, 3500],
      ["0", "1000", "2000", "3000"], immune, im_fit, im_lo, im_hi, "m7Gscore", "ImmuneScore", (1531, 1583), (624, 674), im_y, im_w)
joint(747, 1585, 1019, 1860, (.09, 4.74), (-1719, 2583), [1, 2, 3, 4], [-1000, 0, 1000, 2000], [-1500, -500, 500, 1500, 2500],
      ["\u22121000", "0", "1000", "2000"], stromal, st_fit, st_lo, st_hi, "risk score", "StromalScore", (1531, 1583), (1022.7, 1071), st_y, st_w)
joint(742, 1941, 1021, 2217, (.07, 4.73), (.113, .9756), [1, 2, 3, 4], [.25, .5, .75], [.125, .375, .625, .875],
      ["0.25", "0.50", "0.75"], tumor, tu_fit, tu_lo, tu_hi, "risk score", "TumorPurity", (1888, 1939), (1024.3, 1075), tu_y, tu_w)

# ---------- C heat map
col_w = 2.6
hm_x1 = (1238 - 1154) / col_w - .3
pc = panel(1135, 1060, 1315, 2115, (-7.31, 61.92), (53.0, -2.17))
row_y, row_names, row_idx = [], [], 0
cx, cy, cc = [], [], []
g_off = 0.0
for gi, (method, labels) in enumerate(zip(hm_methods, hm_labels)):
    g_top = g_off + row_idx
    for lab in labels:
        yc = g_off + row_idx + .5
        row_y.append(yc)
        row_names.append(f"{lab}_{method}")
        left, right = hm_rows[row_idx].split()
        for i, ch in enumerate(left):
            cx.append(i + .5)
            cy.append(yc)
            cc.append(hm_level_colors[int(ch)])
        for i, ch in enumerate(right):
            cx.append(hm_x1 + i + .5)
            cy.append(yc)
            cc.append(hm_level_colors[int(ch)])
        row_idx += 1
    pc.quad(left=[-7.31], right=[-1.81], top=[g_top], bottom=[g_off + row_idx], fill_color=hm_method_colors[gi], line_color=None)
    g_off += .35
pc.rect(cx, cy, width=1.02, height=1.0, fill_color=cc, line_color=None)
pcl = panel(1327, 1060, 1690, 2115, (0, 1), (53.0, -2.17))
pcl.text(x=[0] * len(row_y), y=row_y, text=row_names, text_color="black", text_align="left", text_baseline="middle",
         text_font=value(SANS), text_font_size=value("17.4px"))


def mix(a, b, t):
    ca = [int(a[i:i + 2], 16) for i in (1, 3, 5)]
    cb = [int(b[i:i + 2], 16) for i in (1, 3, 5)]
    return "#" + "".join(f"{round(u + (v - u) * t):02X}" for u, v in zip(ca, cb))


def risk_color(v):
    stops = [(.3, "#EEF6F4"), (1.0, "#CDE8E6"), (1.8, "#A9DAD8"), (2.6, "#6BBDA0"), (3.8, "#2E9E6B")]
    for (a, ca), (b, cb) in zip(stops, stops[1:]):
        if v <= b:
            return mix(ca, cb, max(0, (v - a) / (b - a)))
    return stops[-1][1]


rx = [i + .5 for i in range(30)] + [hm_x1 + i + .5 for i in range(30)]
pc.rect(rx, [-1.545] * 60, width=1.02, height=.73, fill_color=[risk_color(v) for v in hm_risk_values], line_color=None)
pc.quad(left=[0, hm_x1], right=[30, hm_x1 + 30], top=[-.97, -.97], bottom=[-.29, -.29], fill_color=[TEAL, SALMON], line_color=None)

# colour bar of the heat map
pcb = panel(1688, 1063, 1705, 1326, (0, 1), (-20.5, 20.6))
cb_bottom = cb_values[:-1]
cb_top = cb_values[1:]
cb_cols = []
for lo_v, hi_v in zip(cb_bottom, cb_top):
    m = (lo_v + hi_v) / 2
    t = min(1, abs(m) / 3.7)
    cb_cols.append(mix("#FFFFFF", SALMON if m > 0 else TEAL, t))
pcb.quad(left=[0] * len(cb_cols), right=[1] * len(cb_cols), bottom=cb_bottom, top=cb_top, fill_color=cb_cols, line_color=None)

# ---------- page-level text and legends
ov = figure(width=1865, height=2242, x_range=Range1d(0, 1865), y_range=Range1d(2242, 0), output_backend="svg",
            toolbar_location=None, title=None, x_axis_location=None, y_axis_location=None, min_border=0,
            background_fill_color=None, border_fill_color=None, outline_line_color=None)
ov.grid.visible = False
figs.append(Column(children=[ov], width=1865, height=2242, styles={"position": "absolute", "left": "0px", "top": "0px"}))


def txt(x, y, s, size=14, color="black", align="left", base="middle", font=SANS, style="normal", angle=0):
    ov.text(x=[x], y=[y], text=[s], text_font=value(font), text_font_size=value(f"{size}px"), text_color=color,
            text_align=align, text_baseline=base, text_font_style=style, angle=angle)


def box(l, t, r, b, color, line=None, lw=1):
    ov.quad(left=[l], right=[r], top=[t], bottom=[b], fill_color=color, line_color=line, line_width=lw)


for s, x, y in [("A", 9, 43), ("B", 1113, 42), ("C", 1111, 1051), ("D", 11, 630), ("E", 529, 630), ("F", 11, 1180),
                ("G", 285, 1180), ("H", 287, 1581)]:
    txt(x, y - 19, s, 50, base="alphabetic", style="bold")

# A headers and legend
for s, x in [("Cluster", 105), ("Fustat", 516), ("Risk", 928)]:
    txt(x, 22, s, 17.3, align="center", font=SERIF)
leg_a = [("Cluster", 46, None), ("A", 62, cluster_colors[0]), ("B", 81, cluster_colors[1]), ("C", 100, cluster_colors[2]),
         ("Fustat", 124, None), ("Alive", 142, fustat_colors[0]), ("Dead", 160, fustat_colors[1]),
         ("Risk", 184, None), ("low", 201, risk_colors[0]), ("high", 220, risk_colors[1])]
for s, y, c in leg_a:
    if c is None:
        txt(989, y, s, 17.3, font=SERIF)
    else:
        ov.scatter([998], [y], size=17, color=c)
        txt(1010, y + 1, s, 17.3, font=SERIF)

# B legend
txt(1710, 387, "Software", 18.7)
box(1709, 406, 1740, 586, "#F2F2F2")
for i, (n, c) in enumerate(zip(sw_names, sw_colors)):
    y = 420 + i * 30.3
    ov.scatter([1725], [y], size=18, color=c)
    txt(1750, y, n, 15.5)

# D legend
txt(213, 616, "Cluster", 13)
for n, c, kx, lx in zip(cluster_names, cluster_colors, [278, 322, 367], [300, 345, 390]):
    ov.segment([kx], [606], [kx], [624], color="black", line_width=1)
    box(kx - 8.5, 610, kx + 8.5, 621, c, "black", 1)
    ov.segment([kx - 8.5], [615.5], [kx + 8.5], [615.5], color="black", line_width=1.5)
    txt(lx, 616, n, 11.5, align="center")

# F legend
for i, (n, c) in enumerate(zip(f_names[::-1], f_colors[::-1])):
    t = 1962.7 + i * 52.8
    box(56.7, t, 105, t + 48.5, c)
    txt(125, t + 24.5, n, 27.5)

# R annotations
txt(348.5, 1242, "R = 0.068, p = 0.16", 11)
txt(749.7, 1245.7, "R = 0.18, p = 0.00016", 11)
txt(355.8, 1606, "R = \u22120.32, p = 9e\u221213", 11)
txt(759, 1606, "R = \u22120.22, p = 7.7e\u221207", 11)
txt(755, 1962, "R = 0.29, p = 7.9e\u221211", 11)

# C annotations and legends
txt(1327, 1073, "riskScore", 13.5, style="bold")
txt(1327, 1090, "risk", 13.5, style="bold")
txt(1142, 2152, "Methods", 13.5, align="center", style="bold", angle=-math.pi / 2)
for s, y in [("20", 1067), ("10", 1131), ("0", 1195), ("\u221210", 1259), ("\u221220", 1323)]:
    txt(1712, y, s, 14)
txt(1740, 1069, "riskScore", 14, style="bold")
for c, t in zip(["#2E9E6B", "#6BBDA0", "#AEDCDC", "#EEF6F4"], [1078.6, 1099, 1119, 1139]):
    box(1740, t, 1760, t + 20, c)
txt(1764, 1088.5, "3.5", 14)
txt(1764, 1148.6, "0.5", 14)
txt(1740, 1179, "risk", 14, style="bold")
box(1740, 1189.6, 1760, 1209, TEAL)
box(1740, 1209, 1760, 1229.4, SALMON)
txt(1764, 1199.5, "low", 14)
txt(1764, 1219.4, "high", 14)
txt(1740, 1250, "Methods", 14, style="bold")
for i, (n, c) in enumerate(zip(hm_methods, hm_method_colors)):
    t = 1259.6 + i * 20.1
    box(1740, t, 1760, t + 20.1, c)
    txt(1764, t + 10, n, 14)

page = Column(children=figs, width=1857, height=2234, sizing_mode="fixed", styles={"position": "relative"})
open("out.html", "w").write(file_html(page, INLINE))
